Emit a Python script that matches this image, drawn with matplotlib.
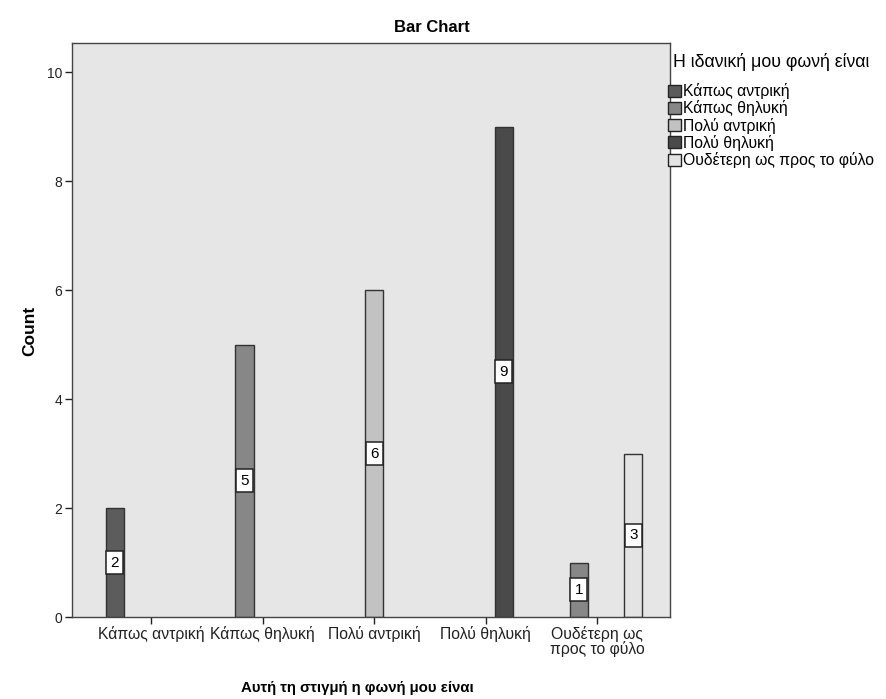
import numpy as np
import matplotlib
matplotlib.use("Agg")
import matplotlib.pyplot as plt
from matplotlib.patches import Patch

plt.rcParams["font.family"] = ["Liberation Sans", "DejaVu Sans"]

# current voice (x axis) vs ideal voice (clusters)
current_voice = ["Κάπως αντρική", "Κάπως θηλυκή", "Πολύ αντρική", "Πολύ θηλυκή",
                 "Ουδέτερη ως\nπρος το φύλο"]
ideal_voice = ["Κάπως αντρική", "Κάπως θηλυκή", "Πολύ αντρική", "Πολύ θηλυκή",
               "Ουδέτερη ως προς το φύλο"]
# counts[current][ideal]
counts = np.array([
    [2, 0, 0, 0, 0],
    [0, 5, 0, 0, 0],
    [0, 0, 6, 0, 0],
    [0, 0, 0, 9, 0],
    [0, 1, 0, 0, 3],
])
ideal_colors = ["#5c5c5c", "#878787", "#c2c2c2", "#4a4a4a", "#e4e4e4"]

fig = plt.figure(figsize=(8.86, 6.99), dpi=100)
ax = fig.add_axes([0.0813, 0.1173, 0.675, 0.821])
ax.set_facecolor("#e6e6e6")

slot = 0.163
for i in range(len(current_voice)):
    for j in range(len(ideal_voice)):
        v = counts[i, j]
        if v == 0:
            continue
        x = i + (j - 2) * slot
        ax.bar(x, v, width=slot, color=ideal_colors[j], edgecolor="#333333",
               linewidth=1.0, zorder=2)
        ax.text(x, v / 2, str(v), ha="center", va="center", fontsize=11,
                zorder=3,
                bbox=dict(boxstyle="square,pad=0.28", facecolor="white",
                          edgecolor="#222222", linewidth=1.1))

ax.set_xlim(-0.71, 4.655)
ax.set_ylim(0, 10.53)
ax.set_yticks(range(0, 11, 2))
ax.set_xticks(range(len(current_voice)))
ax.set_xticklabels(current_voice, linespacing=0.92)
ax.tick_params(axis="both", direction="out", length=5, width=1, colors="#222222",
               labelcolor="#222222")
ax.tick_params(axis="x", labelsize=11.3, pad=1.5)
ax.tick_params(axis="y", labelsize=10, pad=2)
for s in ax.spines.values():
    s.set_color("#444444")
    s.set_linewidth(1.0)

fig.text(30 / 886, 0.526, "Count", rotation=90, ha="center", va="center",
         fontsize=12.5, fontweight="bold")
fig.text(0.403, 1 - 688 / 699, "Αυτή τη στιγμή η φωνή μου είναι", ha="center",
         va="center", fontsize=10.8, fontweight="bold")
fig.text(0.487, 0.961, "Bar Chart", ha="center", va="center", fontsize=12,
         fontweight="bold")

# legend title drawn separately so it sits a little above the entries
fig.text(673 / 886, 1 - 62 / 699, "Η ιδανική μου φωνή είναι", ha="left",
         va="center", fontsize=12.8)
handles = [Patch(facecolor=c, edgecolor="#222222", linewidth=1.0) for c in ideal_colors]
fig.legend(handles, ideal_voice, loc="upper left",
           bbox_to_anchor=(668 / 886, 1 - 83 / 699), frameon=False,
           fontsize=11.3, handlelength=0.8, handleheight=0.8,
           handletextpad=0.15, labelspacing=0.08, borderaxespad=0,
           borderpad=0)

fig.savefig("out.png", dpi=100)
